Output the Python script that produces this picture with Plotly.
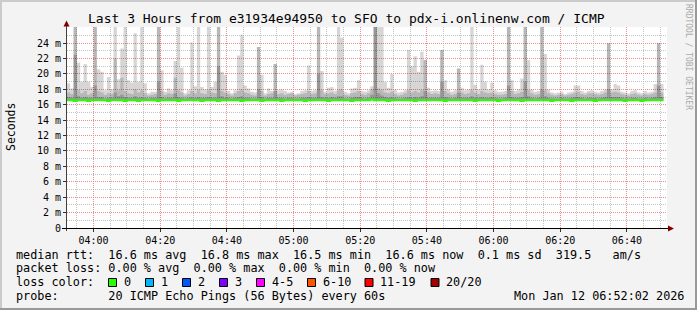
import plotly.graph_objects as go
import pandas as pd

# ---------------- data ----------------
series_start = "2026-01-12 03:52:00"
range_start = "2026-01-12 03:52:02"
range_end = "2026-01-12 06:52:02"

y_tick_vals = [0, 2, 4, 6, 8, 10, 12, 14, 16, 18, 20, 22, 24]
y_tick_text = ["0", "2 m", "4 m", "6 m", "8 m", "10 m", "12 m", "14 m",
               "16 m", "18 m", "20 m", "22 m", "24 m"]

# light smoke top (max ping, ms) per minute
smoke_max = [
    18.8, 18.1, 26.5, 21.5, 19.0, 21.3, 19.0, 18.3, 26.5, 20.6,
    20.3, 17.9, 19.6, 18.0, 26.5, 19.3, 23.3, 26.5, 19.2, 18.9,
    25.3, 19.0, 26.5, 18.8, 17.5, 17.7, 17.7, 26.5, 20.5, 17.7,
    18.1, 17.9, 21.7, 26.5, 20.8, 17.5, 17.9, 24.1, 18.4, 26.5,
    18.3, 18.0, 26.5, 18.3, 19.0, 26.5, 20.3, 19.9, 17.8, 17.5,
    17.9, 22.4, 25.1, 18.5, 18.1, 17.7, 17.6, 23.5, 19.9, 17.5,
    18.1, 17.8, 21.3, 17.9, 18.0, 17.8, 17.6, 17.7, 17.4, 17.5,
    17.8, 17.9, 21.1, 17.8, 17.9, 26.5, 20.4, 17.7, 18.2, 18.3,
    17.8, 26.5, 24.7, 17.7, 17.5, 18.1, 18.2, 19.2, 17.8, 17.7,
    17.9, 18.4, 26.5, 26.5, 26.5, 19.0, 18.2, 20.0, 18.0, 17.6,
    17.7, 17.9, 23.1, 21.0, 22.3, 20.3, 22.9, 21.8, 18.2, 17.8,
    17.9, 17.8, 23.1, 19.2, 18.0, 17.7, 17.9, 20.7, 18.2, 17.9,
    18.0, 26.5, 18.6, 18.0, 21.2, 19.0, 18.0, 18.9, 17.9, 17.7,
    17.7, 17.8, 26.5, 19.2, 17.8, 18.0, 19.4, 26.5, 21.8, 18.0,
    17.7, 17.8, 26.5, 22.6, 18.0, 17.6, 17.5, 17.6, 17.7, 17.4,
    17.6, 17.7, 18.5, 18.5, 17.8, 17.6, 17.8, 17.9, 17.7, 17.6,
    17.8, 18.0, 24.0, 18.0, 18.7, 18.5, 17.7, 17.6, 17.5, 17.8,
    17.9, 17.6, 17.5, 17.8, 17.6, 17.7, 18.7, 24.0, 18.7,
]

# medium smoke top per minute
smoke_mid = [
    17.6, 17.4, 26.5, 17.9, 17.5, 17.8, 17.3, 17.5, 26.5, 17.8,
    17.6, 17.3, 17.5, 17.4, 22.0, 17.9, 19.5, 17.8, 17.5, 17.4,
    18.0, 17.6, 17.9, 17.5, 17.2, 17.3, 17.4, 26.5, 17.8, 17.3,
    17.5, 17.4, 19.5, 17.9, 17.6, 17.2, 17.4, 17.8, 17.5, 17.9,
    17.5, 17.4, 17.9, 17.6, 17.5, 26.5, 17.8, 17.6, 17.4, 17.2,
    17.5, 17.8, 18.0, 17.6, 17.5, 17.3, 17.2, 23.5, 17.8, 17.2,
    17.4, 17.5, 21.3, 17.4, 17.5, 17.3, 17.4, 17.5, 17.2, 17.3,
    17.4, 17.5, 17.8, 17.4, 17.5, 26.5, 17.9, 17.4, 17.5, 17.6,
    17.4, 17.9, 18.0, 17.3, 17.2, 17.5, 17.6, 17.8, 17.4, 17.3,
    17.5, 18.0, 26.5, 18.1, 17.9, 17.6, 17.5, 17.7, 17.4, 17.2,
    17.3, 17.5, 17.9, 17.6, 17.8, 17.6, 17.9, 21.8, 17.6, 17.4,
    17.5, 17.4, 23.1, 17.8, 17.5, 17.3, 17.4, 20.7, 17.6, 17.4,
    17.5, 17.9, 17.6, 17.4, 17.8, 17.6, 17.5, 17.6, 17.4, 17.3,
    17.3, 17.4, 26.5, 17.8, 17.4, 17.5, 17.7, 26.5, 17.9, 17.5,
    17.3, 17.4, 26.5, 17.9, 17.5, 17.3, 17.2, 17.3, 17.4, 17.2,
    17.3, 17.4, 17.6, 17.7, 17.4, 17.3, 17.5, 17.5, 17.4, 17.3,
    17.4, 17.6, 24.0, 17.6, 17.7, 17.6, 17.4, 17.3, 17.2, 17.4,
    17.5, 17.3, 17.2, 17.4, 17.3, 17.4, 17.6, 24.0, 17.6,
]

# dark smoke top per minute
smoke_dark = [
    17.0, 16.9, 22.5, 17.1, 16.9, 17.0, 16.9, 16.9, 18.5, 17.0,
    17.0, 16.8, 16.9, 16.9, 17.6, 17.1, 17.3, 17.0, 16.9, 16.9,
    17.1, 16.9, 17.0, 16.9, 16.8, 16.9, 16.9, 19.0, 17.0, 16.8,
    16.9, 16.9, 17.5, 17.0, 16.9, 16.8, 16.9, 17.0, 16.9, 17.0,
    16.9, 16.9, 17.0, 16.9, 16.9, 21.0, 17.1, 16.9, 16.9, 16.8,
    16.9, 17.0, 17.1, 16.9, 16.9, 16.8, 16.8, 18.0, 17.0, 16.8,
    16.9, 16.9, 17.8, 16.9, 16.9, 16.8, 16.9, 16.9, 16.8, 16.8,
    16.9, 16.9, 17.0, 16.9, 16.9, 20.0, 17.0, 16.9, 16.9, 17.0,
    16.9, 17.1, 17.1, 16.8, 16.8, 16.9, 17.0, 17.0, 16.9, 16.8,
    16.9, 17.3, 26.5, 17.5, 17.2, 17.0, 16.9, 17.0, 16.9, 16.8,
    16.8, 16.9, 17.0, 16.9, 17.0, 16.9, 17.1, 17.8, 16.9, 16.9,
    16.9, 16.9, 19.0, 17.0, 16.9, 16.8, 16.9, 17.6, 16.9, 16.9,
    16.9, 17.1, 16.9, 16.9, 17.0, 16.9, 16.9, 17.0, 16.9, 16.8,
    16.8, 16.9, 18.5, 17.0, 16.9, 16.9, 17.0, 19.0, 17.1, 16.9,
    16.8, 16.9, 18.0, 17.1, 16.9, 16.8, 16.8, 16.8, 16.9, 16.8,
    16.8, 16.9, 17.0, 17.0, 16.9, 16.8, 16.9, 16.9, 16.9, 16.8,
    16.9, 17.0, 18.0, 17.0, 17.0, 17.0, 16.9, 16.8, 16.8, 16.9,
    16.9, 16.8, 16.8, 16.9, 16.8, 16.9, 17.0, 18.5, 17.0,
]

# median rtt per minute
median_rtt = [
    16.6, 16.6, 16.5, 16.6, 16.6, 16.6, 16.5, 16.6, 16.6, 16.6,
    16.6, 16.6, 16.5, 16.6, 16.6, 16.6, 16.6, 16.5, 16.6, 16.6,
    16.6, 16.5, 16.6, 16.6, 16.6, 16.6, 16.6, 16.5, 16.6, 16.6,
    16.6, 16.6, 16.6, 16.5, 16.6, 16.6, 16.6, 16.6, 16.6, 16.6,
    16.5, 16.6, 16.6, 16.6, 16.6, 16.5, 16.6, 16.6, 16.6, 16.6,
    16.6, 16.6, 16.5, 16.6, 16.6, 16.6, 16.6, 16.6, 16.5, 16.6,
    16.6, 16.6, 16.6, 16.6, 16.5, 16.6, 16.6, 16.6, 16.6, 16.6,
    16.6, 16.5, 16.6, 16.6, 16.6, 16.6, 16.6, 16.6, 16.5, 16.6,
    16.6, 16.6, 16.6, 16.6, 16.6, 16.5, 16.6, 16.6, 16.6, 16.6,
    16.6, 16.7, 16.6, 16.6, 16.6, 16.6, 16.5, 16.6, 16.6, 16.6,
    16.6, 16.6, 16.6, 16.6, 16.5, 16.6, 16.6, 16.6, 16.6, 16.6,
    16.6, 16.6, 16.6, 16.5, 16.6, 16.6, 16.6, 16.6, 16.6, 16.6,
    16.6, 16.6, 16.5, 16.6, 16.6, 16.6, 16.6, 16.6, 16.6, 16.5,
    16.6, 16.6, 16.6, 16.6, 16.6, 16.6, 16.5, 16.6, 16.6, 16.6,
    16.6, 16.6, 16.6, 16.6, 16.6, 16.5, 16.6, 16.6, 16.6, 16.6,
    16.6, 16.5, 16.6, 16.6, 16.6, 16.6, 16.6, 16.6, 16.5, 16.6,
    16.6, 16.6, 16.6, 16.6, 16.6, 16.6, 16.6, 16.5, 16.6, 16.6,
    16.6, 16.6, 16.5, 16.6, 16.6, 16.6, 16.6, 16.6, 16.6,
]

title_text = "Last 3 Hours from e31934e94950 to SFO to pdx-i.onlinenw.com / ICMP"
y_title = "Seconds"
legend_lines = [
    "median rtt:  16.6 ms avg  16.8 ms max  16.5 ms min  16.6 ms now  0.1 ms sd  319.5   am/s",
    "packet loss: 0.00 % avg  0.00 % max  0.00 % min  0.00 % now",
    "loss color:",
    "probe:       20 ICMP Echo Pings (56 Bytes) every 60s",
]
loss_labels = ["0", "1", "2", "3", "4-5", "6-10", "11-19", "20/20"]
loss_colors = ["#26ff00", "#00b8ff", "#0059ff", "#7e00ff", "#ff00ff", "#ff5500", "#ff0000", "#a10000"]
date_text = "Mon Jan 12 06:52:02 2026"
credit_text = "RRDTOOL / TOBI OETIKER"

# ---------------- layout helpers ----------------
W, H = 697, 310
PL, PR, PT, PB = 67, 667, 27, 228
MONO = "DejaVu Sans Mono"


def px(x):
    return (x - PL) / (PR - PL)


def py(y):
    return (PB - y) / (PB - PT)


def nb(s):
    return s.replace(" ", "\u00a0")


times = pd.date_range(series_start, periods=len(median_rtt), freq="1min")
step_x = list(times) + [times[-1] + pd.Timedelta(minutes=1)]


def ext(vals):
    return list(vals) + [vals[-1]]


fig = go.Figure()
for tops, col in [(smoke_max, "rgba(0,0,0,0.16)"),
                  (smoke_mid, "rgba(0,0,0,0.14)"),
                  (smoke_dark, "rgba(0,0,0,0.18)")]:
    fig.add_trace(go.Scatter(
        x=step_x, y=ext(median_rtt), mode="lines",
        line=dict(width=0, shape="hv"), hoverinfo="skip", showlegend=False,
    ))
    fig.add_trace(go.Scatter(
        x=step_x, y=ext(tops), mode="lines", fill="tonexty", fillcolor=col,
        line=dict(width=0, shape="hv"), hoverinfo="skip", showlegend=False,
    ))

fig.add_trace(go.Scatter(
    x=step_x, y=ext(median_rtt), mode="lines", line=dict(color="#26ff00", width=2, shape="hv"),
    hoverinfo="skip", showlegend=False,
))

shapes = []
# frame shading
shapes += [
    dict(type="rect", xref="paper", yref="paper", x0=px(0), x1=px(W), y0=py(0), y1=py(2),
         fillcolor="#cbcbcb", line=dict(width=0), layer="above"),
    dict(type="rect", xref="paper", yref="paper", x0=px(0), x1=px(2), y0=py(0), y1=py(H),
         fillcolor="#cbcbcb", line=dict(width=0), layer="above"),
    dict(type="rect", xref="paper", yref="paper", x0=px(0), x1=px(W), y0=py(H - 2), y1=py(H),
         fillcolor="#999999", line=dict(width=0), layer="above"),
    dict(type="rect", xref="paper", yref="paper", x0=px(W - 2), x1=px(W), y0=py(0), y1=py(H),
         fillcolor="#999999", line=dict(width=0), layer="above"),
]
# axes lines
shapes += [
    dict(type="line", xref="paper", yref="paper", x0=px(66.5), x1=px(66.5), y0=py(231), y1=py(25),
         line=dict(color="#404040", width=1), layer="above"),
    dict(type="line", xref="paper", yref="paper", x0=px(62), x1=px(670), y0=py(228.5), y1=py(228.5),
         line=dict(color="#000000", width=1), layer="above"),
]
# arrows
shapes += [
    dict(type="path", xref="paper", yref="paper",
         path=f"M {px(63.5)},{py(26.5)} L {px(69.5)},{py(26.5)} L {px(66.5)},{py(20.5)} Z",
         fillcolor="#800000", line=dict(width=0), layer="above"),
    dict(type="path", xref="paper", yref="paper",
         path=f"M {px(668)},{py(225.5)} L {px(668)},{py(231.5)} L {px(674)},{py(228.5)} Z",
         fillcolor="#800000", line=dict(width=0), layer="above"),
]
# loss colour boxes
box_left = [108.5, 145.5, 182.5, 219.5, 256.5, 307.5, 365, 431]
for bx, c in zip(box_left, loss_colors):
    shapes.append(dict(type="rect", xref="paper", yref="paper",
                       x0=px(bx), x1=px(bx + 8), y0=py(286.5), y1=py(278.5),
                       fillcolor=c, line=dict(color="#000000", width=1), layer="above"))

annotations = [
    dict(text=nb(title_text), x=px(346), y=py(18.5), xref="paper", yref="paper",
         xanchor="center", yanchor="middle", showarrow=False, borderpad=0,
         font=dict(family=MONO, size=13, color="#000")),
    dict(text=y_title, x=px(10.5), y=py(127.5), xref="paper", yref="paper",
         xanchor="center", yanchor="middle", showarrow=False, textangle=-90, borderpad=0,
         font=dict(family=MONO, size=11.5, color="#000")),
    dict(text=nb(credit_text), x=px(689), y=py(57), xref="paper", yref="paper",
         xanchor="center", yanchor="middle", showarrow=False, textangle=90, borderpad=0,
         font=dict(family=MONO, size=8, color="#aaaaaa")),
]
line_y_px = [255, 268.3, 282.3, 295.7]
for txt, yy in zip(legend_lines, line_y_px):
    annotations.append(dict(text=nb(txt), x=px(15), y=py(yy), xref="paper", yref="paper",
                            xanchor="left", yanchor="middle", showarrow=False, borderpad=0,
                            font=dict(family=MONO, size=11.8, color="#000")))
for bx, lab in zip(box_left, loss_labels):
    annotations.append(dict(text=lab, x=px(bx + 14), y=py(282.3), xref="paper", yref="paper",
                            xanchor="left", yanchor="middle", showarrow=False, borderpad=0,
                            font=dict(family=MONO, size=11.8, color="#000")))
annotations.append(dict(text=nb(date_text), x=px(512.5), y=py(295.7), xref="paper", yref="paper",
                        xanchor="left", yanchor="middle", showarrow=False, borderpad=0,
                        font=dict(family=MONO, size=11.8, color="#000")))

fig.update_layout(
    width=W, height=H,
    margin=dict(l=PL, r=W - PR, t=PT, b=H - PB, pad=0),
    paper_bgcolor="#f3f3f3", plot_bgcolor="#ffffff",
    showlegend=False,
    shapes=shapes, annotations=annotations,
    font=dict(family=MONO, size=10, color="#000"),
)
fig.update_xaxes(
    type="date", range=[range_start, range_end],
    tick0="2026-01-12 04:00", dtick=20 * 60000, tickformat="%H:%M",
    showgrid=True, gridcolor="#ee8c8c", griddash="1px,1px", gridwidth=1,
    minor=dict(dtick=5 * 60000, tick0="2026-01-12 04:00", showgrid=True,
               gridcolor="#c4c4c4", griddash="1px,1px", gridwidth=1),
    ticks="outside", ticklen=3, tickcolor="#303030",
    showline=False, zeroline=False,
    tickfont=dict(family=MONO, size=10, color="#000"),
)
fig.update_yaxes(
    range=[0, 26.1], tickvals=y_tick_vals, ticktext=y_tick_text,
    showgrid=True, gridcolor="#ee8c8c", griddash="1px,1px", gridwidth=1,
    minor=dict(dtick=1, tick0=0, showgrid=True, gridcolor="#c4c4c4", griddash="1px,1px", gridwidth=1),
    ticks="outside", ticklen=3, tickcolor="#303030",
    showline=False, zeroline=False,
    tickfont=dict(family=MONO, size=10, color="#000"),
)

fig.write_html("out.html")
